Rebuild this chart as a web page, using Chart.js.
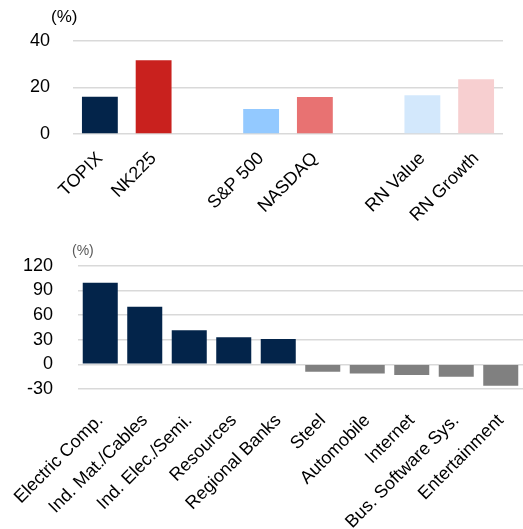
<!DOCTYPE html>
<html>
<head>
<meta charset="utf-8">
<script src="https://cdn.jsdelivr.net/npm/chart.js@4"></script>
<style>
  body { margin: 0; background: #fff; font-family: "Liberation Sans", Arial, sans-serif; }
  .panel { position: relative; width: 523px; }
  .unit { position: absolute; color: #000; }
</style>
</head>
<body>
<div class="panel" style="height:230px">
  <span class="unit" style="left:51px; top:7px; font-size:17px;">(%)</span>
  <canvas id="topChart" width="523" height="230"></canvas>
</div>
<div class="panel" style="height:299px">
  <span class="unit" style="left:72px; top:12px; font-size:14px; color:#595959;">(%)</span>
  <canvas id="bottomChart" width="523" height="299"></canvas>
</div>
<script>
// top: index returns (blank slots separate the groups)
const indexLabels = ["TOPIX", "NK225", "", "S&P 500", "NASDAQ", "", "RN Value", "RN Growth"];
const indexValues = [16, 31.7, null, 10.7, 15.9, null, 16.7, 23.6];
const indexColors = ["#03244A", "#C9211E", "#fff", "#93C9FF", "#E87272", "#fff", "#D3E8FC", "#F7CFD0"];
const indexTicks = [0, 20, 40];

// bottom: sectors
const sectorLabels = ["Electric Comp.", "Ind. Mat./Cables", "Ind. Elec./Semi.", "Resources", "Regional Banks",
  "Steel", "Automobile", "Internet", "Bus. Software Sys.", "Entertainment"];
const sectorValues = [99.5, 70, 41.5, 33, 31, -9, -11, -13, -15, -26];
const sectorTicks = [-30, 0, 30, 60, 90, 120];

const font = "'Liberation Sans', Arial, sans-serif";
const gridColor = "#d9d9d9";

// fixed axis height, and no extra side padding from the rotated labels
function fixX(h) {
  return s => { s.height = h; s.paddingLeft = 0; s.paddingRight = 0; };
}

new Chart("topChart", {
  type: "bar",
  data: {
    labels: indexLabels,
    datasets: [{
      data: indexValues,
      backgroundColor: indexColors,
      categoryPercentage: 1,
      barPercentage: 0.667
    }]
  },
  options: {
    responsive: false,
    animation: false,
    layout: { padding: { top: 41, right: 20, left: 0, bottom: 0 } },
    plugins: { legend: { display: false }, tooltip: { enabled: false } },
    scales: {
      x: {
        grid: { display: false, drawTicks: false },
        border: { display: false },
        ticks: { color: "#000", font: { family: font, size: 18 }, minRotation: 45, maxRotation: 45, autoSkip: false, padding: 14 },
        afterFit: fixX(96)
      },
      y: {
        min: indexTicks[0],
        max: indexTicks[indexTicks.length - 1],
        afterBuildTicks: s => { s.ticks = indexTicks.map(v => ({ value: v })); },
        grid: { color: gridColor, lineWidth: 1.5, drawTicks: false },
        border: { display: false },
        ticks: { color: "#000", font: { family: font, size: 18 }, padding: 23 },
        afterFit: s => { s.width = 73; }
      }
    }
  }
});

new Chart("bottomChart", {
  type: "bar",
  data: {
    labels: sectorLabels,
    datasets: [{
      data: sectorValues,
      backgroundColor: sectorValues.map(v => v >= 0 ? "#03244A" : "#808080"),
      categoryPercentage: 1,
      barPercentage: 0.787
    }]
  },
  options: {
    responsive: false,
    animation: false,
    layout: { padding: { top: 33, right: 0, left: 0, bottom: 0 } },
    plugins: { legend: { display: false }, tooltip: { enabled: false } },
    scales: {
      x: {
        grid: { display: false, drawTicks: false },
        border: { display: false },
        ticks: { color: "#000", font: { family: font, size: 18 }, minRotation: 45, maxRotation: 45, autoSkip: false, padding: 21 },
        afterFit: fixX(140)
      },
      y: {
        min: sectorTicks[0],
        max: sectorTicks[sectorTicks.length - 1],
        afterBuildTicks: s => { s.ticks = sectorTicks.map(v => ({ value: v })); },
        grid: { color: gridColor, lineWidth: 1.5, drawTicks: false },
        border: { display: false },
        ticks: { color: "#000", font: { family: font, size: 18 }, padding: 25 },
        afterFit: s => { s.width = 78; }
      }
    }
  }
});
</script>
</body>
</html>
